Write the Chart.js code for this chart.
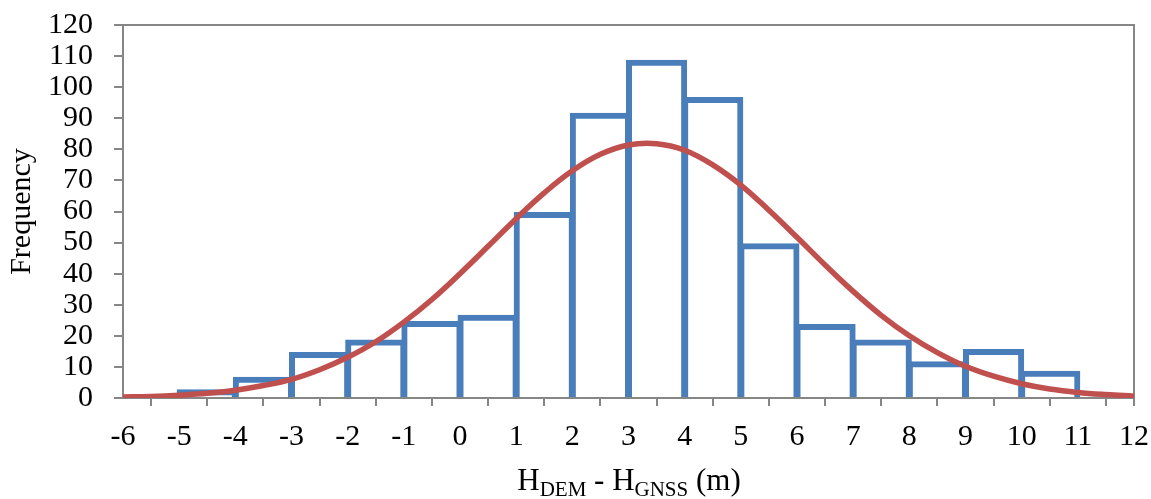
<!DOCTYPE html>
<html>
<head>
<meta charset="utf-8">
<script src="https://cdn.jsdelivr.net/npm/chart.js@4.4.1/dist/chart.umd.min.js"></script>
<style>
    html, body { margin: 0; padding: 0; background: #fff; }
    #wrap { position: relative; width: 1151px; height: 499px; }
    #xtitle {
        position: absolute; left: 0; width: 1151px; top: 462px;
        padding-left: 107px; box-sizing: border-box;
        text-align: center; font-family: "Liberation Serif", "Times New Roman", serif;
        font-size: 31px; line-height: 1.15; color: #000; white-space: nowrap;
    }
    #xtitle sub { font-size: 21px; vertical-align: -6px; line-height: 0; }
</style>
</head>
<body>
<div id="wrap">
    <canvas id="chart" width="1151" height="499"></canvas>
    <div id="xtitle">H<sub>DEM</sub> - H<sub>GNSS</sub> (m)</div>
</div>
<script>
const binCenters = [-4.5, -3.5, -2.5, -1.5, -0.5, 0.5, 1.5, 2.5, 3.5, 4.5, 5.5, 6.5, 7.5, 8.5, 9.5, 10.5];
const frequencies = [2, 6, 14, 18, 24, 26, 59, 91, 108, 96, 49, 23, 18, 11, 15, 8];

const curveX = [-6, -5.5, -5, -4.5, -4, -3.5, -3, -2.5, -2, -1.5, -1, -0.5, 0, 0.5, 1, 1.5, 2, 2.5,
    3, 3.5, 4, 4.5, 5, 5.5, 6, 6.5, 7, 7.5, 8, 8.5, 9, 9.5, 10, 10.5, 11, 11.5, 12];
const curveY = [0.3, 0.5, 0.9, 1.5, 2.5, 4.0, 6.0, 9.1, 13.1, 18.1, 24.4, 31.7, 40.0, 48.8, 57.7, 66.0, 73.1, 78.4,
    81.4, 81.8, 79.7, 75.0, 68.5, 60.4, 51.7, 42.8, 34.3, 26.6, 20.0, 14.6, 10.2, 7.0, 4.6, 2.9, 1.8, 1.1, 0.6];

const xMin = -6, xMax = 12;
const yMin = 0, yMax = 120, yStep = 10;

const axisGray = "#868686";
const font = { family: "'Liberation Serif', 'Times New Roman', serif", size: 30 };

const frame = {
    id: "frame",
    beforeDatasetsDraw(chart) {
        const { ctx, chartArea: a } = chart;
        ctx.save();
        ctx.strokeStyle = axisGray;
        ctx.lineWidth = 2;
        ctx.beginPath();
        ctx.moveTo(a.left - 9, a.top);
        ctx.lineTo(a.right, a.top);
        ctx.lineTo(a.right, a.bottom + 8);
        ctx.stroke();
        ctx.restore();
    }
};

new Chart(document.getElementById("chart"), {
    data: {
        datasets: [
            {
                type: "line",
                order: 0,
                data: curveX.map((x, i) => ({ x, y: curveY[i] })),
                borderColor: "#C0504D",
                borderWidth: 5.5,
                pointRadius: 0,
                tension: 0.4,
                fill: false
            },
            {
                type: "bar",
                order: 1,
                data: binCenters.map((x, i) => ({ x, y: frequencies[i] })),
                backgroundColor: "rgba(0,0,0,0)",
                borderColor: "#4A7EBB",
                borderWidth: 1,
                inflateAmount: 2.5,
                borderSkipped: "bottom",
                barPercentage: 1,
                categoryPercentage: 1
            }
        ]
    },
    options: {
        responsive: false,
        animation: false,
        layout: { padding: { left: 0, right: 17, top: 25, bottom: 0 } },
        plugins: { legend: { display: false }, tooltip: { enabled: false } },
        scales: {
            x: {
                type: "linear",
                min: xMin,
                max: xMax,
                offset: false,
                afterFit: scale => {
                    scale.height = 101;
                    scale.paddingLeft = 0;
                    scale.paddingRight = 0;
                },
                ticks: { stepSize: 1, color: "#000", font, padding: 13, maxRotation: 0, autoSkip: false },
                grid: { drawOnChartArea: false, tickLength: 8, color: axisGray, lineWidth: 2 },
                border: { color: axisGray, width: 2 }
            },
            y: {
                min: yMin,
                max: yMax,
                afterFit: scale => {
                    scale.width = 123;
                    scale.paddingTop = 0;
                    scale.paddingBottom = 0;
                },
                ticks: { stepSize: yStep, color: "#000", font, padding: 21, autoSkip: false },
                grid: { drawOnChartArea: false, tickLength: 9, color: axisGray, lineWidth: 2 },
                border: { color: axisGray, width: 2 },
                title: { display: true, text: "Frequency", color: "#000", font, padding: { top: 4, bottom: 0 } }
            }
        }
    },
    plugins: [frame]
});
</script>
</body>
</html>
